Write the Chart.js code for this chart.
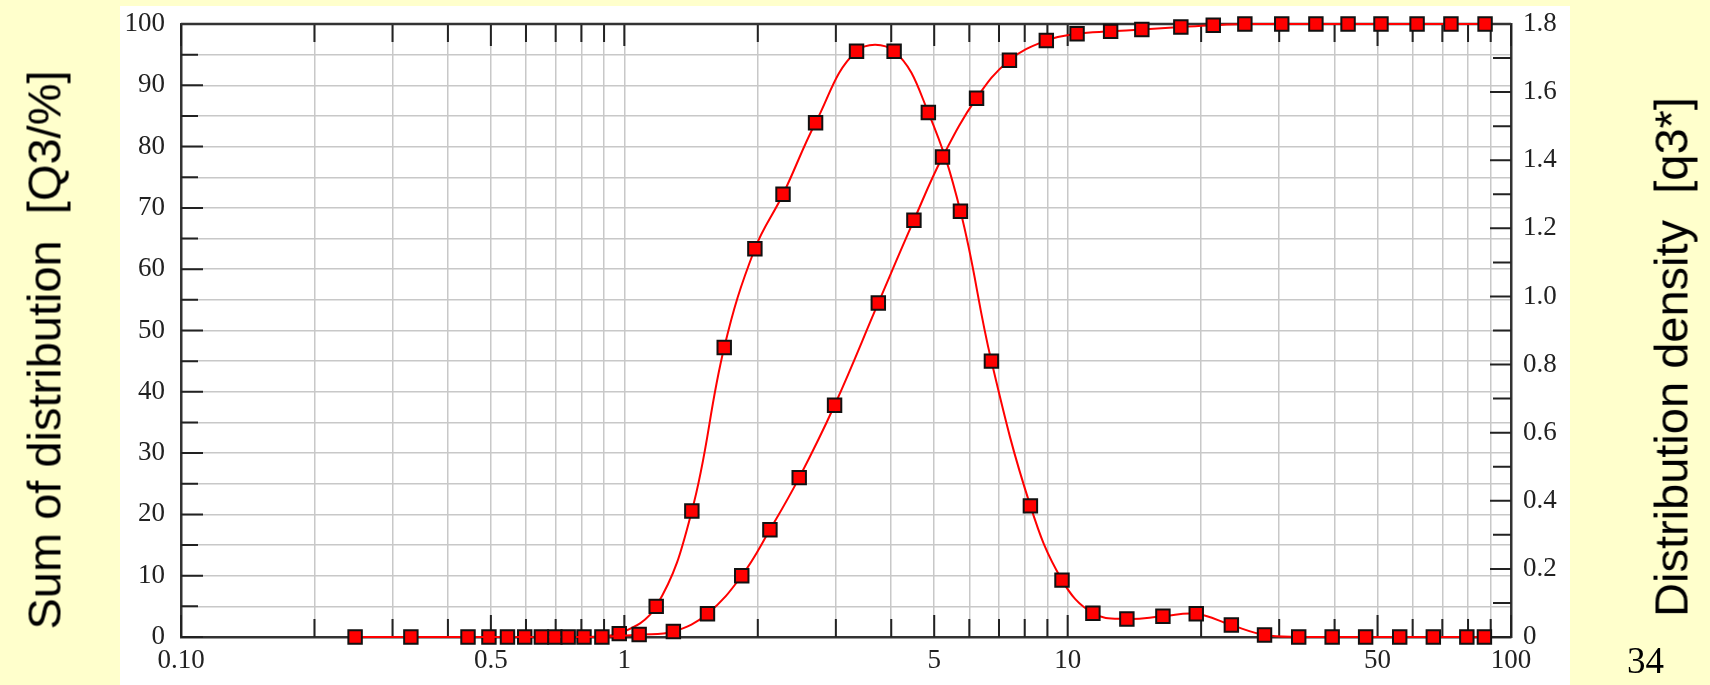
<!DOCTYPE html>
<html>
<head>
<meta charset="utf-8">
<title>Particle size distribution</title>
<script src="https://cdn.jsdelivr.net/npm/chart.js@4.4.1/dist/chart.umd.min.js"></script>
<style>
  html, body { margin: 0; padding: 0; background: #ffffcc; }
  #page { position: relative; width: 1710px; height: 685px; overflow: hidden; }
  #panel { position: absolute; left: 120px; top: 6px; width: 1450px; height: 679px; background: #fff; }
  #chartPSD { position: absolute; left: 0; top: 0; }
  .axis-title {
    position: absolute;
    font-family: "Liberation Sans", Arial, sans-serif;
    font-size: 47px;
    color: #000;
    white-space: pre;
    transform: translate(-50%, -50%) rotate(-90deg);
  }
  #titleLeft { left: 44px; top: 350px; }
  #titleRight { left: 1671px; top: 357px; }
  #pageNo { position: absolute; left: 1627px; top: 639px; font-family: "Liberation Serif", serif; font-size: 37px; color: #000; }
</style>
</head>
<body>
<div id="page">
  <div id="panel"></div>
  <canvas id="chartPSD" width="1710" height="685"></canvas>
  <div class="axis-title" id="titleLeft">Sum of distribution  [Q3/%]</div>
  <div class="axis-title" id="titleRight">Distribution density  [q3*]</div>
  <div id="pageNo">34</div>
</div>
<script>
// particle size (x) and cumulative distribution Q3 in %
var cumSizes = [0.247, 0.330, 0.444, 0.545, 0.650, 0.747, 0.890, 1.08, 1.29, 1.54, 1.84, 2.13, 2.48, 2.98,
                3.74, 4.50, 5.22, 6.23, 7.39, 8.95, 10.5, 12.5, 14.7, 18.0, 21.3, 25.1, 30.4, 36.3, 42.9,
                50.9, 61.4, 73.2, 87.4];
var cumValues = [0, 0, 0, 0, 0, 0, 0, 0.4, 0.9, 3.8, 10, 17.5, 26, 37.8,
                 54.5, 68, 78.3, 87.9, 94.1, 97.3, 98.4, 98.8, 99.1, 99.5, 99.8, 100, 100, 100, 100,
                 100, 100, 100, 100];

// particle size and distribution density q3*
var densSizes = [0.495, 0.596, 0.697, 0.811, 0.974, 1.18, 1.42, 1.68, 1.97, 2.28, 2.70, 3.34, 4.06, 4.85,
                 5.73, 6.73, 8.24, 9.71, 11.4, 13.6, 16.4, 19.5, 23.4, 27.8, 33.2, 39.5, 47.0, 56.1,
                 66.8, 79.5, 87.1];
var densValues = [0, 0, 0, 0, 0.01, 0.09, 0.37, 0.85, 1.14, 1.30, 1.51, 1.72, 1.72, 1.54,
                  1.25, 0.81, 0.385, 0.167, 0.07, 0.053, 0.061, 0.068, 0.035, 0.006, 0, 0, 0, 0,
                  0, 0, 0];

// labelled sizes on the x axis
var xTickValues = [0.1, 0.5, 1, 5, 10, 50, 100];
var xTickText = ['0.10', '0.5', '1', '5', '10', '50', '100'];

// grid lines at 1..9 of every decade
var gridSizes = [];
[0.1, 1, 10].forEach(function(p) {
    for (var m = 1; m < 10; m++) gridSizes.push(+(m * p).toPrecision(2));
});
gridSizes.push(100);

var serif = '"Liberation Serif", "Times New Roman", serif';
var tickFont = { family: serif, size: 27 };

function xLabel(v) {
    var i = xTickValues.findIndex(function(t) { return Math.abs(t - v) < t * 1e-6; });
    return i < 0 ? '' : xTickText[i];
}

function toPoints(xs, ys) {
    return xs.map(function(x, i) { return { x: x, y: ys[i] }; });
}

var seriesStyle = {
    borderColor: '#ff0000',
    borderWidth: 2,
    tension: 0.4,
    pointStyle: 'rect',
    pointRadius: 9.5,
    pointBackgroundColor: '#ff0000',
    pointBorderColor: '#111',
    pointBorderWidth: 2,
    clip: false
};

// frame top edge and the inward tick marks on all four sides
var frameTicks = {
    id: 'frameTicks',
    beforeDatasetsDraw: function(chart) {
        var ctx = chart.ctx, a = chart.chartArea, s = chart.scales;
        ctx.save();
        ctx.strokeStyle = '#222';
        ctx.lineWidth = 2;
        ctx.beginPath();
        s.x.ticks.forEach(function(t) {
            var x = s.x.getPixelForValue(t.value);
            var len = t.label ? 22 : 18;
            ctx.moveTo(x, a.bottom); ctx.lineTo(x, a.bottom - len);
            ctx.moveTo(x, a.top); ctx.lineTo(x, a.top + len);
        });
        s.y.ticks.forEach(function(t) {
            var y = s.y.getPixelForValue(t.value);
            var len = t.label ? 22 : 17;
            ctx.moveTo(a.left, y); ctx.lineTo(a.left + len, y);
        });
        s.y2.ticks.forEach(function(t) {
            var y = s.y2.getPixelForValue(t.value);
            var len = t.label ? 21 : 18;
            ctx.moveTo(a.right, y); ctx.lineTo(a.right - len, y);
        });
        ctx.stroke();
        ctx.strokeStyle = '#333';
        ctx.lineWidth = 2.5;
        ctx.beginPath();
        ctx.moveTo(a.left, a.top); ctx.lineTo(a.right, a.top);
        ctx.stroke();
        ctx.restore();
    }
};

// fixed axis sizes so the plot area sits where the slide has it
function fixWidth(w) {
    return function(scale) {
        scale.width = w;
        scale.paddingTop = 0;
        scale.paddingBottom = 0;
    };
}

var ctxPSD = document.getElementById('chartPSD').getContext('2d');
var chartPSD = new Chart(ctxPSD, {
    type: 'line',
    data: {
        datasets: [
            Object.assign({ label: 'Q3', data: toPoints(cumSizes, cumValues), yAxisID: 'y' }, seriesStyle),
            Object.assign({ label: 'q3*', data: toPoints(densSizes, densValues), yAxisID: 'y2' }, seriesStyle)
        ]
    },
    options: {
        responsive: false,
        animation: false,
        devicePixelRatio: 1,
        layout: { autoPadding: false, padding: { top: 24, left: 0, right: 0, bottom: 0 } },
        plugins: {
            legend: { display: false },
            tooltip: { enabled: false }
        },
        scales: {
            x: {
                type: 'logarithmic',
                position: 'bottom',
                min: 0.1,
                max: 100,
                afterBuildTicks: function(scale) {
                    scale.ticks = gridSizes.map(function(v) { return { value: v }; });
                },
                afterFit: function(scale) { scale.height = 48; },
                grid: { color: '#c8c8c8', lineWidth: 1.5, drawTicks: false },
                border: { display: true, color: '#333', width: 2.5 },
                ticks: { autoSkip: false, maxRotation: 0, padding: 8, color: '#222', font: tickFont, callback: xLabel }
            },
            y: {
                type: 'linear',
                position: 'left',
                min: 0,
                max: 100,
                afterFit: fixWidth(181),
                grid: { color: '#c8c8c8', lineWidth: 1.5, drawTicks: false },
                border: { display: true, color: '#333', width: 2.5 },
                ticks: {
                    stepSize: 5, autoSkip: false, padding: 16, color: '#222', font: tickFont,
                    callback: function(v) { return v % 10 === 0 ? String(v) : ''; }
                }
            },
            y2: {
                type: 'linear',
                position: 'right',
                min: 0,
                max: 1.8,
                afterFit: fixWidth(199),
                grid: { drawOnChartArea: false, drawTicks: false },
                border: { display: true, color: '#333', width: 2.5 },
                ticks: {
                    stepSize: 0.1, autoSkip: false, padding: 12, color: '#222', font: tickFont,
                    callback: function(v) {
                        var k = Math.round(v * 10);
                        if (k % 2 !== 0) return '';
                        return k === 0 ? '0' : (k / 10).toFixed(1);
                    }
                }
            }
        }
    },
    plugins: [frameTicks]
});
</script>
</body>
</html>
